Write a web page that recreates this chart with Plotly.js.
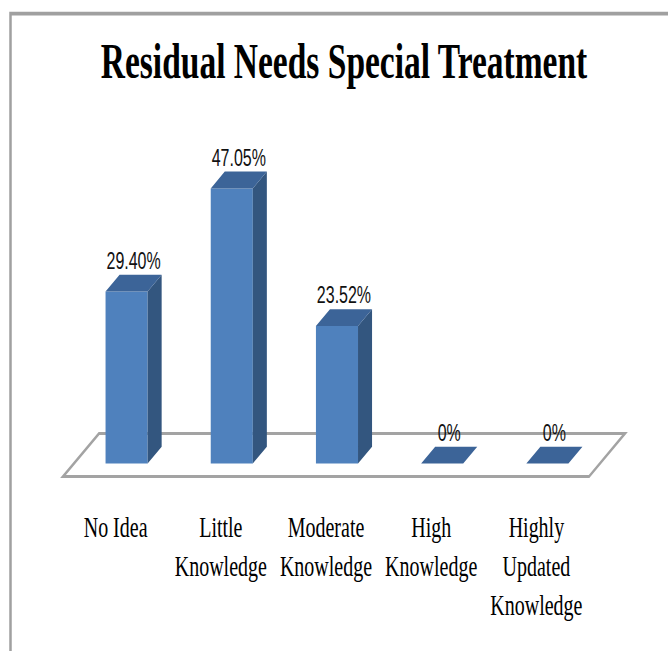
<!DOCTYPE html>
<html>
<head>
<meta charset="utf-8">
<script src="https://cdn.plot.ly/plotly-3.0.1.min.js"></script>
<style>
  html, body { margin: 0; padding: 0; background: #ffffff; width: 668px; height: 651px; }
  #outer { position: relative; width: 668px; height: 651px; overflow: hidden; }
  #wrap { position: absolute; left: 0; top: 0; width: 668px; height: 434px; transform: scaleY(1.5); transform-origin: 0 0; }
</style>
</head>
<body>
<div id="outer"><div id="wrap"></div></div>
<script>
// ---- data ----
const categories = ['No Idea', 'Little Knowledge', 'Moderate Knowledge', 'High Knowledge', 'Highly Updated Knowledge'];
const tickLabels = ['No Idea', 'Little<br>Knowledge', 'Moderate<br>Knowledge', 'High<br>Knowledge', 'Highly<br>Updated<br>Knowledge'];
const values = [29.40, 47.05, 23.52, 0, 0];
const valueLabels = ['29.40%', '47.05%', '23.52%', '0%', '0%'];
const chartTitle = 'Residual Needs Special Treatment';

// ---- pseudo-3D projection (style) ----
const DX = 0.342;   // x shift (category units) for full floor depth
const DY = 7.36;    // y shift (value units) for full floor depth
const D0 = 0.305;   // bar front depth
const D1 = 0.695;   // bar back depth
const HALF = 0.2;   // half bar width (category units)

const idx = categories.map((_, i) => i);

function px(x, d) { return x + d * DX; }
function py(v, d) { return v + d * DY; }

const sideX = [], sideY = [];
const topX = [], topY = [];
idx.forEach(i => {
  const v = values[i];
  const xL = i - HALF, xR = i + HALF;
  sideX.push(px(xR, D0), px(xR, D1), px(xR, D1), px(xR, D0), px(xR, D0), null);
  sideY.push(py(0, D0), py(0, D1), py(v, D1), py(v, D0), py(0, D0), null);
  topX.push(px(xL, D0), px(xR, D0), px(xR, D1), px(xL, D1), px(xL, D0), null);
  topY.push(py(v, D0), py(v, D0), py(v, D1), py(v, D1), py(v, D0), null);
});

const n = categories.length;
const floorPath = 'M ' + px(-0.5, 0) + ',' + py(0, 0) +
  ' L ' + px(n - 0.5, 0) + ',' + py(0, 0) +
  ' L ' + px(n - 0.5, 1) + ',' + py(0, 1) +
  ' L ' + px(-0.5, 1) + ',' + py(0, 1) + ' Z';

const traces = [
  {
    type: 'bar',
    x: idx.map(i => px(i, D0)),
    y: values,
    base: py(0, D0),
    width: 2 * HALF,
    marker: { color: '#4f81bd', line: { width: 0 } },
    hoverinfo: 'skip'
  },
  {
    type: 'scatter', mode: 'lines',
    x: sideX, y: sideY,
    fill: 'toself', fillcolor: '#33567f',
    line: { width: 0, color: '#33567f' },
    hoverinfo: 'skip'
  },
  {
    type: 'scatter', mode: 'lines',
    x: topX, y: topY,
    fill: 'toself', fillcolor: '#3c6498',
    line: { width: 0, color: '#3c6498' },
    hoverinfo: 'skip'
  },
  {
    type: 'scatter', mode: 'text',
    x: idx.map(i => px(i, (D0 + D1) / 2)),
    y: values.map(v => py(v, D1)),
    text: valueLabels,
    textposition: 'top center',
    textfont: { family: 'Liberation Sans, Arial, sans-serif', size: 16, color: '#111111' },
    hoverinfo: 'skip'
  }
];

const layout = {
  width: 668,
  height: 434,
  margin: { l: 0, r: 0, t: 0, b: 0, pad: 0 },
  paper_bgcolor: '#ffffff',
  plot_bgcolor: 'rgba(0,0,0,0)',
  showlegend: false,
  title: {
    text: chartTitle,
    font: { family: 'Liberation Serif, Times New Roman, serif', size: 33.5, color: '#000000', weight: 'bold' },
    x: 0.515, xanchor: 'center', xref: 'paper',
    y: 0.934, yanchor: 'top', yref: 'container'
  },
  xaxis: {
    range: [-1.099, 5.251],
    tickvals: idx,
    ticktext: tickLabels,
    tickfont: { family: 'Liberation Serif, Times New Roman, serif', size: 20, color: '#000000' },
    ticks: '',
    ticklabelstandoff: 7,
    showgrid: false, zeroline: false, showline: false,
    fixedrange: true
  },
  yaxis: {
    domain: [0.2396, 1],
    range: [-3.16, 81.52],
    visible: false,
    fixedrange: true
  },
  shapes: [
    {
      type: 'path', xref: 'x', yref: 'y', layer: 'below',
      path: floorPath,
      fillcolor: '#ffffff',
      line: { color: '#a3a3a3', width: 2 }
    },
    {
      type: 'path', xref: 'paper', yref: 'paper', layer: 'above',
      path: 'M ' + (10.5 / 668) + ',-0.2 L ' + (10.5 / 668) + ',' + (1 - 9 / 434) + ' L 1.2,' + (1 - 9 / 434),
      line: { color: '#a0a0a0', width: 2.5 }
    }
  ]
};

Plotly.newPlot('wrap', traces, layout, { displayModeBar: false, staticPlot: true });
</script>
</body>
</html>
